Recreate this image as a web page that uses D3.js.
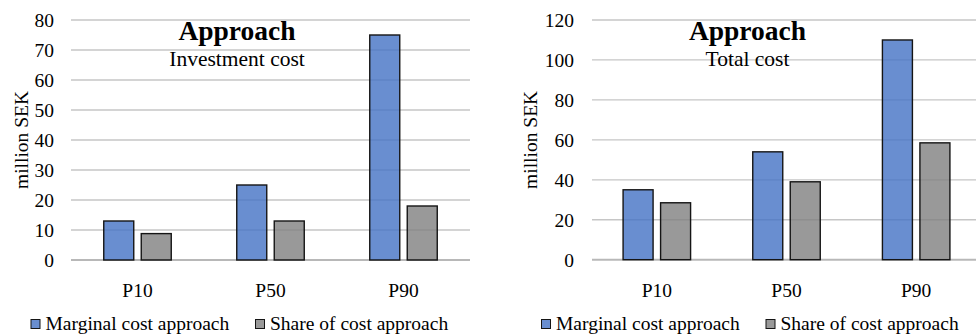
<!DOCTYPE html>
<html>
<head>
<meta charset="utf-8">
<script src="https://cdn.jsdelivr.net/npm/d3@7"></script>
<style>
  html, body { margin: 0; padding: 0; background: #fff; }
  svg { display: block; }
  text { font-family: "Liberation Serif", "Times New Roman", serif; fill: #000; }
</style>
</head>
<body>
<svg id="chart" width="976" height="335"></svg>
<script>
// Percentile categories shared by both panels
const categories = ["P10", "P50", "P90"];
const seriesNames = ["Marginal cost approach", "Share of cost approach"];

// Investment cost panel (million SEK)
const investMarginal = [13, 25, 75];
const investShare = [8.8, 13, 18];
const investTicks = [0, 10, 20, 30, 40, 50, 60, 70, 80];

// Total cost panel (million SEK)
const totalMarginal = [35, 54, 110];
const totalShare = [28.5, 39, 58.5];
const totalTicks = [0, 20, 40, 60, 80, 100, 120];

const colors = ["#4472c4", "#7f7f7f"];

const svg = d3.select("#chart");

function panel(cfg) {
  const g = svg.append("g");
  const x = d3.scaleBand().domain(categories).range([cfg.x0, cfg.x1]).paddingInner(0).paddingOuter(0);
  const y = d3.scaleLinear().domain([0, cfg.max]).range([cfg.yBottom, cfg.yTop]);

  // horizontal gridlines
  g.append("g").selectAll("line").data(cfg.ticks).join("line")
    .attr("x1", cfg.x0).attr("x2", cfg.x1)
    .attr("y1", d => y(d)).attr("y2", d => y(d))
    .attr("stroke", d => d === 0 ? "#b8b8b8" : "#c6c6c6")
    .attr("stroke-width", d => d === 0 ? 2 : 1.3);

  // y tick labels
  const yAxis = d3.axisLeft(y).tickValues(cfg.ticks).tickSize(0).tickPadding(0);
  const ya = g.append("g").attr("transform", `translate(${cfg.tickRight},0)`).call(yAxis);
  ya.select(".domain").remove();
  ya.selectAll("text").attr("font-size", 19.5).attr("font-family", "Liberation Serif").attr("fill", "#000").attr("dy", "0.35em");

  // bars
  const barW = 30, gap = 7.5;
  const rows = categories.map((c, i) => ({ c, vals: [cfg.marginal[i], cfg.share[i]] }));
  const grp = g.append("g").selectAll("g").data(rows).join("g");
  grp.selectAll("rect").data(d => d.vals.map((v, k) => ({ c: d.c, v, k }))).join("rect")
    .attr("x", d => x(d.c) + x.bandwidth() / 2 + (d.k === 0 ? -gap / 2 - barW : gap / 2))
    .attr("width", barW)
    .attr("y", d => y(d.v))
    .attr("height", d => y(0) - y(d.v))
    .attr("fill", d => colors[d.k])
    .attr("fill-opacity", 0.8)
    .attr("stroke", "#151515")
    .attr("stroke-width", 1.4);

  // category labels
  const xAxis = d3.axisBottom(x).tickSize(0).tickPadding(0);
  const xa = g.append("g").attr("transform", `translate(0,${cfg.yBottom + 23})`).call(xAxis);
  xa.select(".domain").remove();
  xa.selectAll("text").attr("font-size", 19.5).attr("font-family", "Liberation Serif").attr("fill", "#000").attr("dy", "0.71em");

  // y axis title
  g.append("text")
    .attr("transform", `translate(${cfg.yTitleX},${(cfg.yTop + cfg.yBottom) / 2}) rotate(-90)`)
    .attr("text-anchor", "middle").attr("dy", "0.35em")
    .attr("font-size", 19.5).text("million SEK");

  // titles
  g.append("text").attr("x", cfg.titleX).attr("y", 39.5)
    .attr("text-anchor", "middle").attr("font-size", 27.5).attr("font-weight", "bold").text("Approach");
  g.append("text").attr("x", cfg.titleX).attr("y", 65.5)
    .attr("text-anchor", "middle").attr("font-size", 21.5).text(cfg.subtitle);

  // legend
  const lg = g.append("g");
  cfg.legendX.forEach((lx, k) => {
    lg.append("rect").attr("x", lx).attr("y", 319.5).attr("width", 9).attr("height", 9)
      .attr("fill", colors[k]).attr("fill-opacity", 0.8).attr("stroke", "#151515").attr("stroke-width", 1);
    lg.append("text").attr("x", lx + 14.5).attr("y", 329.5).attr("font-size", 19.5).text(seriesNames[k]);
  });
}

panel({
  x0: 71, x1: 470, yTop: 20, yBottom: 260, max: 80, ticks: investTicks,
  marginal: investMarginal, share: investShare, tickRight: 54, yTitleX: 21,
  titleX: 237, subtitle: "Investment cost", legendX: [31, 255.5]
});

panel({
  x0: 592, x1: 981, yTop: 20, yBottom: 259.7, max: 120, ticks: totalTicks,
  marginal: totalMarginal, share: totalShare, tickRight: 574, yTitleX: 530,
  titleX: 747.5, subtitle: "Total cost", legendX: [541.5, 766]
});
</script>
</body>
</html>
